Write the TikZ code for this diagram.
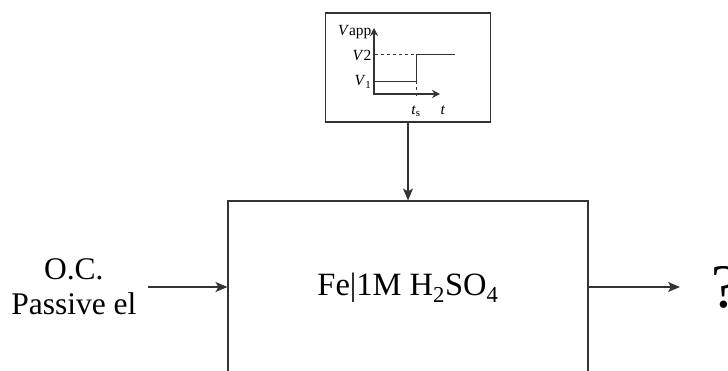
\documentclass[tikz,border=0pt]{standalone}
\usepackage{fontspec}
\setmainfont{Liberation Serif}
\usetikzlibrary{arrows.meta, positioning}

\begin{document}
\begin{tikzpicture}[->,>={Stealth[length=12pt,width=10pt,inset=3pt]},line width=1.2pt,draw=black!80,x=1pt,y=-1pt,
    block/.style={draw=black!80,line width=1.1pt,-,inner sep=0pt},
    small/.style={font=\fontsize{15.5}{17}\selectfont,inner sep=1pt},
    big/.style={font=\fontsize{31.5}{35}\selectfont}]
  \useasboundingbox (0,0) rectangle (728,370);
  % the cell and the applied potential
  \node[block,font=\fontsize{32.5}{36}\selectfont,minimum width=360pt,minimum height=174pt] (cell) at (408,288) {Fe|1M H\textsubscript{2}SO\textsubscript{4}};
  \node[block,minimum width=165pt,minimum height=109pt] (wave) at (408,67.5) {};
  % input and output
  \coordinate (instart) at (148,287);
  \coordinate (outend) at (680,287);
  \node[big,align=center,inner sep=0pt,left=11pt of instart] (input) {O.C.\\Passive el};
  \node[font=\fontsize{62}{70}\selectfont,inner sep=0pt,right=31pt of outend] (quest) {?};
  \draw (instart) -- (instart -| cell.west);
  \draw (cell.east |- outend) -- (outend);
  \draw (wave) -- (cell);
  % step in the potential
  \coordinate (o) at (374,94);
  \draw[line width=2.3pt,-{Stealth[length=8pt,width=8pt]}] ([yshift=-1pt]o) -- (374,28);
  \draw[line width=2.3pt,-{Stealth[length=8pt,width=8pt]}] ([xshift=-1pt]o) -- (440,94);
  \draw[-,line width=1pt] (375,81) -- (416,81) -- (416,54) -- (455,54);
  \draw[-,line width=1pt,dashed,dash pattern=on 3pt off 3pt] (375,54) -- (416,54);
  \draw[-,line width=1pt,dashed,dash pattern=on 3pt off 3pt] (416,81) -- (416,96);
  \node[small,anchor=base east] (vapp) at (373,35) {\textit{V}app};
  \node[small,anchor=east] (vtwo) at (373,55) {\textit{V}2};
  \node[small,anchor=east] (vone) at (373,82) {\textit{V}\textsubscript{1}};
  \node[small] (ts) at (416,111) {\textit{t}\textsubscript{s}};
  \node[small] (tt) at (443,110) {\textit{t}};
\end{tikzpicture}
\end{document}
